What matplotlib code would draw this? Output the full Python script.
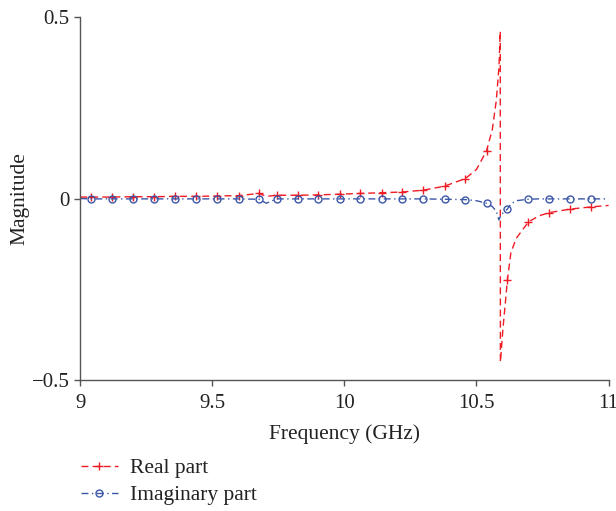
import matplotlib
matplotlib.use('Agg')
import matplotlib.pyplot as plt
import numpy as np

# frequency samples (GHz)
freq = [9.0, 9.04, 9.12, 9.199, 9.28, 9.359, 9.439, 9.518, 9.60, 9.677, 9.705,
        9.744, 9.823, 9.902, 9.982, 10.061, 10.141, 10.22, 10.299, 10.379,
        10.458, 10.50, 10.538, 10.56, 10.575, 10.585, 10.59, 10.5905, 10.60,
        10.617, 10.63, 10.65, 10.696, 10.735, 10.775, 10.855, 10.935, 11.0]

real_part = [0.004, 0.004, 0.004, 0.005, 0.005, 0.006, 0.006, 0.007, 0.008, 0.014, 0.006,
             0.009, 0.009, 0.010, 0.012, 0.014, 0.016, 0.018, 0.023, 0.034,
             0.055, 0.080, 0.131, 0.19, 0.27, 0.36, 0.46, -0.45, -0.36,
             -0.225, -0.15, -0.11, -0.065, -0.048, -0.039, -0.029, -0.023, -0.019]

imag_part = [0.0, -0.001, -0.001, -0.001, -0.001, -0.001, -0.001, -0.001, -0.001, -0.002, -0.013,
             -0.001, -0.001, -0.001, -0.001, -0.001, -0.001, -0.001, -0.001, -0.002,
             -0.003, -0.006, -0.013, -0.022, -0.035, -0.059, -0.05, -0.045, -0.04,
             -0.029, -0.015, -0.006, -0.002, -0.001, -0.001, -0.001, -0.001, -0.001]

# sample indices that carry a marker
marker_idx = [1, 2, 3, 4, 5, 6, 7, 8, 9, 11, 12, 13, 14, 15, 16, 17, 18, 19,
              20, 22, 29, 32, 34, 35, 36]

plt.rcParams['font.family'] = ['Liberation Serif', 'DejaVu Serif']
plt.rcParams['font.size'] = 15

fig = plt.figure(figsize=(6.16, 5.11), dpi=100)
ax = fig.add_axes([0.130, 0.256, 0.858, 0.711])

red = '#ee1c25'
blue = '#3b57a8'

ax.plot(freq, real_part, linestyle=(0, (5, 3)), color=red, linewidth=1.0,
        marker='+', markersize=6, markeredgewidth=1.0, markevery=marker_idx,
        label='Real part')
ax.plot(freq, imag_part, linestyle=(0, (5, 2.5, 1, 2.5)), color=blue, linewidth=1.0,
        marker='o', markersize=5, markerfacecolor='none', markeredgewidth=1.0,
        markevery=marker_idx, label='Imaginary part')

ax.set_xlim(9, 11)
ax.set_ylim(-0.5, 0.5)
ax.set_xticks([9, 9.5, 10, 10.5, 11])
ax.set_xticklabels(['9', '9.5', '10', '10.5', '11'])
ax.set_yticks([-0.5, 0, 0.5])
ax.set_yticklabels(['\u22120.5', '0', '0.5'])

for s in ['top', 'right']:
    ax.spines[s].set_visible(False)
for s in ['left', 'bottom']:
    ax.spines[s].set_color('#555555')
    ax.spines[s].set_linewidth(1.0)
ax.tick_params(direction='out', length=4, width=1.0, color='#555555',
               labelcolor='#222222', labelsize=15)
ax.tick_params(axis='x', pad=6)

ax.set_xlabel('Frequency (GHz)', fontsize=15.5, color='#222222', labelpad=8)
ax.set_ylabel('Magnitude', fontsize=15.5, color='#222222', labelpad=1.5)

handles, labels = ax.get_legend_handles_labels()
fig.legend(handles, labels, loc='lower left', bbox_to_anchor=(0.100, -0.027),
           frameon=False, fontsize=15.5, handlelength=1.7, handletextpad=0.6,
           labelspacing=0.32, labelcolor='#222222')

fig.savefig('out.png', dpi=100)
